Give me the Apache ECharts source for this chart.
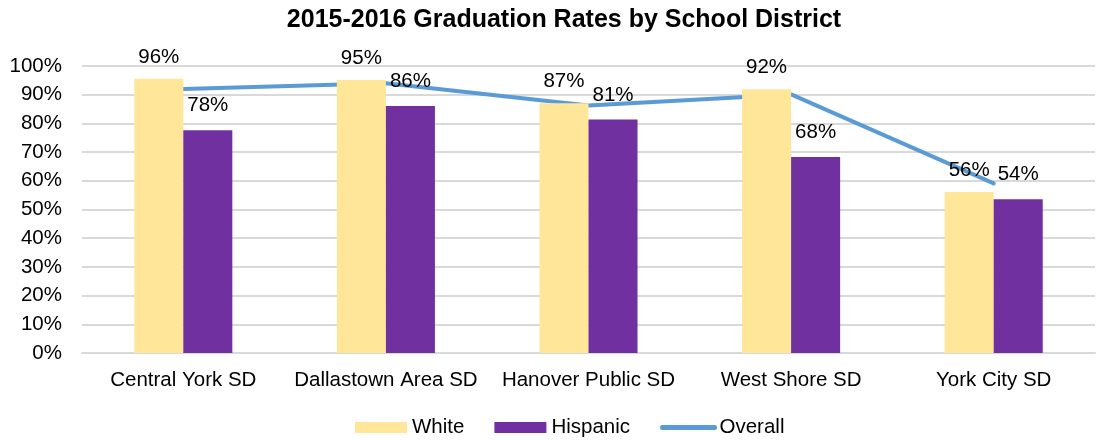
<!DOCTYPE html>
<html><head><meta charset="utf-8">
<script src="https://cdn.jsdelivr.net/npm/echarts@6/dist/echarts.min.js"></script>
<style>html,body{margin:0;padding:0;background:#fff}#c{width:1105px;height:440px}</style>
</head><body><div id="c"></div>
<script>
const categories = ['Central York SD', 'Dallastown Area SD', 'Hanover Public SD', 'West Shore SD', 'York City SD'];
const whiteRates = [0.956, 0.951, 0.870, 0.919, 0.561];
const hispanicRates = [0.776, 0.861, 0.814, 0.683, 0.536];
const overallRates = [0.920, 0.940, 0.862, 0.901, 0.591];
const yTicks = [0, 0.1, 0.2, 0.3, 0.4, 0.5, 0.6, 0.7, 0.8, 0.9, 1.0];

const FONT = "'Liberation Sans', Arial, sans-serif";
const FS = 20.5;
const chart = echarts.init(document.getElementById('c'), null, {renderer: 'canvas'});
const pct = v => Math.round(v * 100) + '%';
chart.setOption({
  animation: false,
  textStyle: {fontFamily: FONT},
  title: {
    text: '2015-2016 Graduation Rates by School District',
    left: 564, top: 8, textAlign: 'center', padding: 0,
    textStyle: {fontFamily: FONT, fontSize: 25, fontWeight: 'bold', color: '#000'}
  },
  legend: {
    left: 355, top: 417, padding: 0,
    itemWidth: 52, itemHeight: 11, itemGap: 30,
    textStyle: {fontFamily: FONT, fontSize: FS, color: '#000'},
    data: [
      {name: 'White', icon: 'rect'},
      {name: 'Hispanic', icon: 'rect'},
      {name: 'Overall', itemStyle: {opacity: 0}, lineStyle: {width: 5, cap: 'round'}}
    ]
  },
  grid: {left: 82, right: 10, top: 66, bottom: 87, containLabel: false},
  xAxis: {
    type: 'category', data: categories,
    axisLine: {show: true, lineStyle: {color: '#d9d9d9', width: 2}},
    axisTick: {show: false},
    axisLabel: {interval: 0, fontFamily: FONT, fontSize: FS, color: '#000', margin: 17}
  },
  yAxis: {
    type: 'value', min: 0, max: 1, interval: 0.1,
    axisLine: {show: false}, axisTick: {show: false},
    splitLine: {lineStyle: {color: '#d9d9d9', width: 2}},
    axisLabel: {fontFamily: FONT, fontSize: FS, color: '#000', margin: 20,
      formatter: v => yTicks.some(t => Math.abs(t - v) < 1e-9) ? Math.round(v * 100) + '%' : ''}
  },
  series: [
    {name: 'White', type: 'bar', data: whiteRates, barGap: '0%', barCategoryGap: '51.6%',
     itemStyle: {color: '#FFE699'},
     label: {show: true, position: 'top', distance: 11, fontFamily: FONT, fontSize: FS, color: '#000',
       formatter: p => pct(p.value)}},
    {name: 'Hispanic', type: 'bar', data: hispanicRates,
     itemStyle: {color: '#7030A0'},
     label: {show: true, position: 'top', distance: 14, fontFamily: FONT, fontSize: FS, color: '#000',
       formatter: p => pct(p.value)}},
    {name: 'Overall', type: 'line', data: overallRates, symbol: 'none', z: 1,
     lineStyle: {color: '#5B9BD5', width: 4, cap: 'round', join: 'round'},
     itemStyle: {color: '#5B9BD5'}}
  ]
});
</script></body></html>
